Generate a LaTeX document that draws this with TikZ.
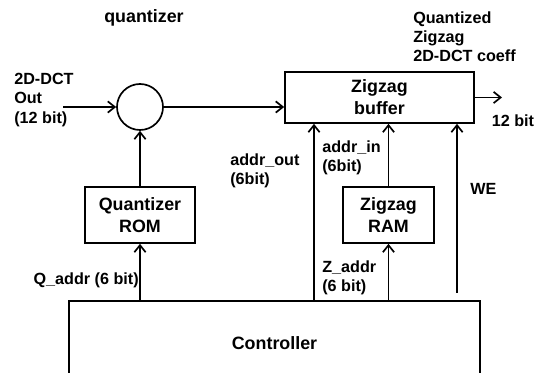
\documentclass[tikz,border=0pt]{standalone}
\usepackage{fontspec}
\setmainfont{Liberation Sans}
\usetikzlibrary{arrows.meta}
\begin{document}
\begin{tikzpicture}[
    x=0.025cm, y=-0.025cm,
    blk/.style={draw, line width=1.2pt, align=center, font=\bfseries\fontsize{12.7}{15.5}\selectfont},
    lbl/.style={align=left, inner sep=0pt, font=\bfseries\fontsize{11.5}{13.6}\selectfont},
    arr/.style={-{Straight Barb[length=5pt, width=8pt]}, line width=1.2pt},
]
\clip (0,0) rectangle (541,373);

% Blocks
\node[blk, circle, minimum size=1.15cm] (sum) at (140,107) {};
\node[blk, minimum width=4.725cm, minimum height=1.275cm] (buf) at (379.5,97.5) {Zigzag\\buffer};
\node[blk, minimum width=2.75cm, minimum height=1.4cm] (rom) at (140,215) {Quantizer\\ROM};
\node[blk, minimum width=2.275cm, minimum height=1.4cm] (ram) at (388.5,215) {Zigzag\\RAM};
\node[blk, minimum width=10.275cm, minimum height=2.1cm] (ctrl) at (274.5,343) {Controller};

% Free ends
\coordinate (in) at (63,107);
\coordinate (out) at (502,97.5);
\coordinate (aout) at (314,0);
\coordinate (we) at (457,0);
\coordinate (weend) at (457,293);

% Labels
\node[lbl, font=\bfseries\fontsize{12.7}{15}\selectfont] (title) at (144,18) {quantizer};
\node[lbl, anchor=west] (inlbl) at (14,100) {2D-DCT\\Out\\(12 bit)};
\node[lbl, anchor=west] (outlbl) at (413,37) {Quantized\\Zigzag\\2D-DCT coeff};
\node[lbl] (bitlbl) at (513,121) {12 bit};
\node[lbl, anchor=west] (aoutlbl) at (230,171) {addr\_out\\(6bit)};
\node[lbl, anchor=west] (ainlbl) at (322,157.5) {addr\_in\\(6bit)};
\node[lbl, anchor=west] (welbl) at (470,189) {WE};
\node[lbl, anchor=east] (qlbl) at (139,280) {Q\_addr (6 bit)};
\node[lbl, anchor=west] (zlbl) at (322,278) {Z\_addr\\(6 bit)};

% Edges
\draw[arr] (in) -- (sum);
\draw[arr] (sum) -- (sum -| buf.west);
\draw[arr] (buf.east) -- (out);
\draw[arr] (rom) -- (sum);
\draw[arr] (ctrl.north -| rom) -- (rom);
\draw[arr] (ctrl.north -| aout) -- (buf.south -| aout);
\draw[arr] (ctrl.north -| ram) -- (ram);
\draw[arr] (ram) -- (buf.south -| ram);
\draw[arr] (weend) -- (we |- buf.south);

\end{tikzpicture}
\end{document}
